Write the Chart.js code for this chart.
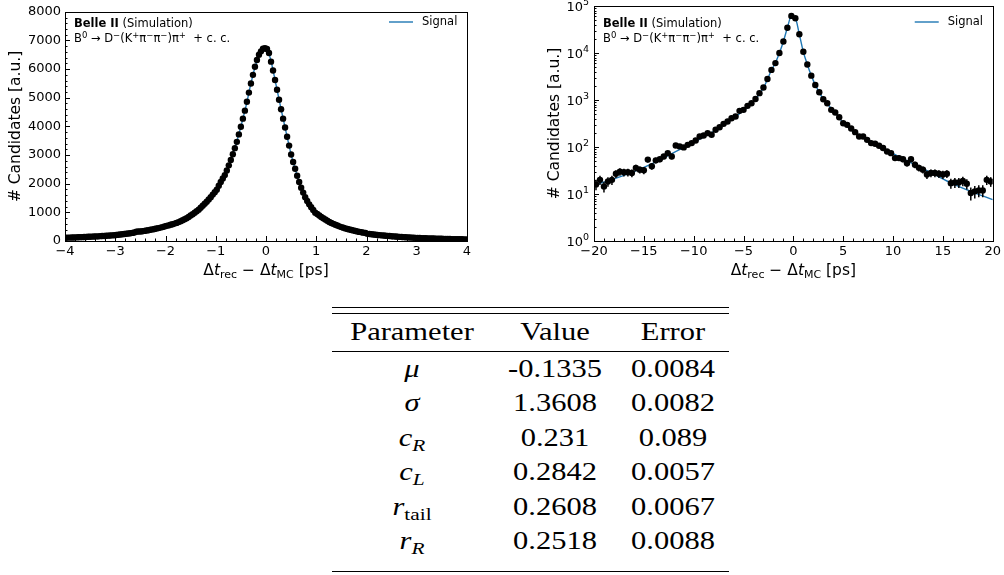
<!DOCTYPE html>
<html>
<head>
<meta charset="utf-8">
<script src="https://cdn.jsdelivr.net/npm/chart.js@4.4.1/dist/chart.umd.min.js"></script>
<style>
  body { margin: 0; background: #fff; width: 1004px; height: 575px; overflow: hidden; position: relative; }
  .plot { position: absolute; top: 0; height: 290px; }
  #linBox { left: 0; width: 500px; }
  #logBox { left: 500px; width: 504px; }
  .rule { position: absolute; left: 332px; width: 397px; height: 1px; background: #000; }
  .cell { position: absolute; font-family: "Liberation Serif", serif; font-size: 25px; line-height: 25px;
          white-space: nowrap; transform: translateX(-50%) scaleX(1.22); color: #000; }
  .cell sub { font-size: 0.7em; vertical-align: -0.3em; line-height: 0; }
</style>
</head>
<body>
<div class="plot" id="linBox"><canvas id="linChart"></canvas></div>
<div class="plot" id="logBox"><canvas id="logChart"></canvas></div>
<div id="table"></div>
<script>
// resolution histogram, 0.04 ps bins on [-4, 4]
const linLo = -4, linWidth = 0.04;
const linCounts = [
  116, 118, 118, 123, 124, 128, 130, 134, 135, 140, 142, 147, 148, 153, 156, 161, 163, 169, 172, 176, 182, 186, 190, 198, 203,
  210, 217, 225, 233, 242, 251, 261, 271, 282, 296, 322, 330, 330, 340, 352, 364, 377, 391, 405, 420, 435, 451, 468, 486, 505,
  528, 545, 565, 585, 608, 632, 660, 690, 722, 758, 795, 838, 890, 935, 985, 1040, 1095, 1160, 1230, 1300, 1370, 1450, 1530, 1620, 1700,
  1790, 1930, 2060, 2180, 2300, 2460, 2640, 2830, 3030, 3240, 3460, 3720, 3990, 4270, 4550, 4860, 5180, 5500, 5800, 6080, 6320, 6500, 6620, 6710, 6730,
  6700, 6560, 6260, 5950, 5620, 5280, 4930, 4600, 4270, 3960, 3640, 3330, 3020, 2760, 2520, 2280, 2060, 1860, 1690, 1530, 1400, 1280, 1180, 1080, 990,
  940, 890, 840, 795, 750, 705, 665, 630, 598, 568, 540, 512, 485, 462, 440, 420, 400, 382, 365, 348, 333, 318, 305, 292, 280,
  250, 242, 235, 227, 220, 212, 205, 198, 192, 185, 179, 172, 166, 161, 155, 150, 145, 140, 135, 131, 127, 122, 118, 114, 110,
  107, 104, 101, 98, 95, 93, 90, 88, 85, 83, 81, 79, 77, 75, 73, 71, 69, 67, 66, 64, 62, 61, 59, 58, 56
];
const linFitT = [-4, -3.5, -3, -2.5, -2, -1.75, -1.5, -1.25, -1, -0.9, -0.8, -0.7, -0.6, -0.5, -0.4, -0.3, -0.2, -0.1, -0.04, 0,
  0.05, 0.1, 0.2, 0.3, 0.4, 0.5, 0.6, 0.7, 0.8, 0.9, 1, 1.25, 1.5, 1.75, 2, 2.5, 3, 3.5, 4];
const linFitN = [114, 145, 205, 335, 515, 650, 885, 1240, 1750, 2060, 2380, 2830, 3350, 3990, 4690, 5500, 6180, 6610, 6720, 6700,
  6580, 6280, 5450, 4600, 3800, 3020, 2400, 1860, 1465, 1180, 965, 650, 485, 362, 265, 180, 112, 84, 56];
const linXTicks = [-4, -3, -2, -1, 0, 1, 2, 3, 4];
const linYTicks = [0, 1000, 2000, 3000, 4000, 5000, 6000, 7000, 8000];

// wide range, 0.4 ps bins on [-20, 20]
const logLo = -20, logWidth = 0.4;
const logCounts = [
  16, 20, 14.5, 18.5, 20, 27, 30, 29, 29, 28, 36, 33, 32, 54, 39, 52, 55, 63, 74, 63,
  108, 103, 98, 111, 121, 138, 167, 176, 197, 182, 232, 264, 311, 349, 410, 445, 588, 617, 750, 855,
  1050, 1400, 1850, 2800, 4370, 6100, 10000, 17600, 34500, 61500,
  55000, 25000, 10600, 5700, 3300, 2090, 1465, 1040, 855, 617,
  542, 431, 321, 296, 248, 207, 167, 167, 142, 121, 117, 106, 95, 80, 74, 58, 58, 55, 45, 55,
  42, 36, 33, 26, 28, 28, 27, 26, 27, 17, 17.6, 17.6, 19, 16.5, 10.5, 11.4, 11.9, 11.9, 20, 18.5
];
const logErrors = [
  4, 4.5, 3.8, 4.3, 4.5, 5.2, 5.5, 5.4, 5.4, 5.3, 6, 5.7, 5.7, 7.3, 6.2, 7.2, 7.4, 7.9, 8.6, 7.9,
  10.4, 10.1, 9.9, 10.5, 11, 11.7, 12.9, 13.3, 14, 13.5, 15.2, 16.2, 17.6, 18.7, 20.2, 21.1, 24.2, 24.8, 27.4, 29.2,
  32.4, 37.4, 43, 52.9, 66.1, 78.1, 100, 132.7, 185.7, 248,
  234.5, 158.1, 103, 75.5, 57.4, 45.7, 38.3, 32.2, 29.2, 24.8,
  23.3, 20.8, 17.9, 17.2, 15.7, 14.4, 12.9, 12.9, 11.9, 11, 10.8, 10.3, 9.7, 8.9, 8.6, 7.6, 7.6, 7.4, 6.7, 7.4,
  6.5, 6, 5.7, 5.1, 5.3, 5.3, 5.2, 5.1, 5.2, 4.1, 4.2, 4.2, 4.4, 4.1, 3.2, 3.4, 3.4, 3.4, 4.5, 4.3
];
const logFitT = [-20, -18, -16, -14, -12, -10, -8, -6, -5, -4, -3, -2.2, -1.8, -1.4, -1, -0.6, -0.2,
  0.2, 0.6, 1, 1.4, 1.8, 2.2, 3, 4, 5, 6, 8, 10, 12, 14, 16, 18, 20];
const logFitN = [15.5, 21, 30, 46, 76, 125, 215, 410, 600, 920, 1800, 4300, 6200, 10000, 17600, 34500, 61000,
  55000, 25000, 10600, 5700, 3300, 2100, 1050, 600, 330, 215, 125, 72, 44, 27, 16.5, 11, 7.6];
const logXTicks = [-20, -15, -10, -5, 0, 5, 10, 15, 20];
const logYTicks = [1, 10, 100, 1000, 10000, 100000];
const logYExponents = ['0', '1', '2', '3', '4', '5'];

// fit results
const paramNames = ['<i>μ</i>', '<i>σ</i>', '<i>c</i><sub><i>R</i></sub>', '<i>c</i><sub><i>L</i></sub>',
  '<i>r</i><sub>tail</sub>', '<i>r</i><sub><i>R</i></sub>'];
const paramValues = ['-0.1335', '1.3608', '0.231', '0.2842', '0.2608', '0.2518'];
const paramErrors = ['0.0084', '0.0082', '0.089', '0.0057', '0.0067', '0.0088'];

Chart.defaults.font.family = '"DejaVu Sans"';
Chart.defaults.color = '#000';

const fmt = v => String(v).replace('-', '\u2212');
const centers = (lo, w, arr) => arr.map((n, i) => ({ x: lo + (i + 0.5) * w, y: n }));
const pairs = (ts, ns) => ts.map((t, i) => ({ x: t, y: ns[i] }));

// draws a run of [font, text, dy] pieces, centred or right-aligned on x
function drawParts(ctx, parts, x0, base, align) {
  let total = 0;
  parts.forEach(p => { ctx.font = p[0]; total += ctx.measureText(p[1]).width; });
  let x = align === 'right' ? x0 - total : align === 'left' ? x0 : x0 - total / 2;
  parts.forEach(p => {
    ctx.font = p[0];
    ctx.fillText(p[1], x, base + p[2]);
    x += ctx.measureText(p[1]).width;
  });
}

const F = s => s + 'px "DejaVu Sans"';

const decor = {
  id: 'decor',
  afterDraw(chart, args, o) {
    const { ctx, chartArea: a, scales: { x, y } } = chart;
    ctx.save();
    ctx.strokeStyle = '#000';
    ctx.fillStyle = '#000';
    ctx.lineWidth = 1;
    ctx.strokeRect(Math.round(a.left) + 0.5, Math.round(a.top) + 0.5,
      Math.round(a.right - a.left), Math.round(a.bottom - a.top));

    // ticks point inwards from the bottom and left spines
    const seg = (x0, y0, x1, y1) => { ctx.beginPath(); ctx.moveTo(x0, y0); ctx.lineTo(x1, y1); ctx.stroke(); };
    const bx = v => Math.round(x.getPixelForValue(v)) + 0.5;
    const by = v => Math.round(y.getPixelForValue(v)) + 0.5;
    o.xMinor.forEach(v => seg(bx(v), a.bottom, bx(v), a.bottom - 2.5));
    o.xMajor.forEach(v => seg(bx(v), a.bottom, bx(v), a.bottom - 5));
    o.yMinor.forEach(v => seg(a.left, by(v), a.left + 2.5, by(v)));
    o.yMajor.forEach(v => seg(a.left, by(v), a.left + 5, by(v)));

    ctx.textBaseline = 'alphabetic';
    ctx.textAlign = 'left';

    // power-of-ten labels with raised exponents
    if (o.expLabels) {
      o.yMajor.forEach((v, i) => {
        const py = y.getPixelForValue(v);
        drawParts(ctx, [[F(13), '10', 0], [F(9.5), o.expLabels[i], -6]], a.left - 5, py + 5, 'right');
      });
    }

    // axis titles
    drawParts(ctx, [
      [F(15.5), 'Δ', 0], ['italic ' + F(15.5), 't', 0], [F(11), 'rec', 3],
      [F(15.5), ' − Δ', 0], ['italic ' + F(15.5), 't', 0], [F(11), 'MC', 3],
      [F(15.5), ' [ps]', 0]
    ], (a.left + a.right) / 2, 275);
    ctx.save();
    ctx.translate(o.yTitleX, (a.top + a.bottom) / 2);
    ctx.rotate(-Math.PI / 2);
    ctx.textAlign = 'center';
    ctx.textBaseline = 'middle';
    ctx.font = F(15.5);
    ctx.fillText('# Candidates [a.u.]', 0, 0);
    ctx.restore();

    // experiment label and decay channel
    const lx = a.left + 9;
    drawParts(ctx, [['bold ' + F(11.5), 'Belle II', 0], [F(11.5), ' (Simulation)', 0]], lx, 27, 'left');
    const n = F(11.5), s = F(8.5), up = -4.5;
    drawParts(ctx, [
      [n, 'B', 0], [s, '0', up], [n, ' → D', 0], [s, '−', up], [n, '(K', 0], [s, '+', up],
      [n, 'π', 0], [s, '−', up], [n, 'π', 0], [s, '−', up], [n, ')π', 0], [s, '+', up], [n, '  + c. c.', 0]
    ], lx, 42, 'left');

    // legend
    ctx.strokeStyle = '#1f77b4';
    ctx.lineWidth = 1.4;
    seg(a.right - 78, 22, a.right - 54, 22);
    ctx.textBaseline = 'middle';
    ctx.font = F(11.5);
    ctx.fillText('Signal', a.right - 45, 22);
    ctx.restore();
  }
};

const errorBars = {
  id: 'errorBars',
  afterDatasetsDraw(chart) {
    const { ctx, scales: { y } } = chart;
    chart.data.datasets.forEach((ds, di) => {
      if (!ds.errors) return;
      const meta = chart.getDatasetMeta(di);
      ctx.save();
      ctx.strokeStyle = '#000';
      ctx.lineWidth = 1.5;
      meta.data.forEach((pt, i) => {
        const v = ds.data[i].y, e = ds.errors[i];
        const lo = y.getPixelForValue(Math.max(v - e, 1)), hi = y.getPixelForValue(v + e);
        ctx.beginPath();
        ctx.moveTo(pt.x, lo);
        ctx.lineTo(pt.x, hi);
        ctx.stroke();
      });
      ctx.restore();
    });
  }
};

function makeChart(id, cfg) {
  return new Chart(document.getElementById(id), {
    type: 'scatter',
    data: {
      datasets: [
        { data: cfg.points, errors: cfg.errors, pointRadius: 3.2, pointBackgroundColor: '#000', pointBorderWidth: 0, order: 0 },
        { data: cfg.fit, showLine: true, pointRadius: 0, borderColor: '#1f77b4', borderWidth: 1.4,
          cubicInterpolationMode: 'monotone', order: 1 }
      ]
    },
    options: {
      responsive: true, maintainAspectRatio: false, animation: false, events: [],
      layout: { padding: { top: 6, right: cfg.padRight, left: 0, bottom: 0 } },
      plugins: { legend: { display: false }, tooltip: { enabled: false }, decor: cfg.decor },
      scales: {
        x: {
          type: 'linear', min: cfg.xTicks[0], max: cfg.xTicks[cfg.xTicks.length - 1],
          grid: { display: false, drawTicks: false }, border: { display: false },
          afterBuildTicks: s => { s.ticks = cfg.xTicks.map(v => ({ value: v })); },
          afterFit: s => { s.height = 49; },
          ticks: { autoSkip: false, maxRotation: 0, padding: 3, font: { size: 13 }, callback: v => fmt(v) }
        },
        y: {
          type: cfg.yType, min: cfg.yTicks[0], max: cfg.yTicks[cfg.yTicks.length - 1],
          grid: { display: false, drawTicks: false }, border: { display: false },
          afterBuildTicks: s => { s.ticks = cfg.yTicks.map(v => ({ value: v })); },
          afterFit: s => { s.width = cfg.yWidth; },
          ticks: { display: cfg.showYTicks, autoSkip: false, padding: 4, font: { size: 13 }, callback: v => String(v) }
        }
      }
    },
    plugins: [decor, errorBars]
  });
}

const steps = (lo, hi, d) => { const out = []; for (let v = lo; v <= hi + 1e-9; v += d) out.push(+v.toFixed(6)); return out; };
const logMinor = [];
for (let e = 0; e < 5; e++) for (let m = 2; m < 10; m++) logMinor.push(m * Math.pow(10, e));

makeChart('linChart', {
  points: centers(linLo, linWidth, linCounts),
  fit: pairs(linFitT, linFitN),
  xTicks: linXTicks, yTicks: linYTicks, yType: 'linear', yWidth: 65, padRight: 33, showYTicks: true,
  decor: { xMajor: linXTicks, xMinor: steps(-4, 4, 0.2), yMajor: linYTicks, yMinor: steps(0, 8000, 200), yTitleX: 15.5 }
});

makeChart('logChart', {
  points: centers(logLo, logWidth, logCounts),
  errors: logErrors,
  fit: pairs(logFitT, logFitN),
  xTicks: logXTicks, yTicks: logYTicks, yType: 'logarithmic', yWidth: 94, padRight: 8, showYTicks: false,
  decor: { xMajor: logXTicks, xMinor: steps(-20, 20, 1), yMajor: logYTicks, yMinor: logMinor, yTitleX: 55,
           expLabels: logYExponents }
});

// parameter table
const table = document.getElementById('table');
[307, 313, 351, 571].forEach(t => {
  const r = document.createElement('div');
  r.className = 'rule';
  r.style.top = t + 'px';
  table.appendChild(r);
});
const cols = [412, 555, 673];
function cell(html, cx, cy) {
  const d = document.createElement('div');
  d.className = 'cell';
  d.innerHTML = html;
  d.style.left = cx + 'px';
  d.style.top = (cy - 12.5) + 'px';
  table.appendChild(d);
}
['Parameter', 'Value', 'Error'].forEach((h, j) => cell(h, cols[j], 331));
paramNames.forEach((p, i) => {
  const cy = 368 + 34.5 * i;
  cell(p, cols[0], cy);
  cell(paramValues[i], cols[1], cy);
  cell(paramErrors[i], cols[2], cy);
});
</script>
</body>
</html>
